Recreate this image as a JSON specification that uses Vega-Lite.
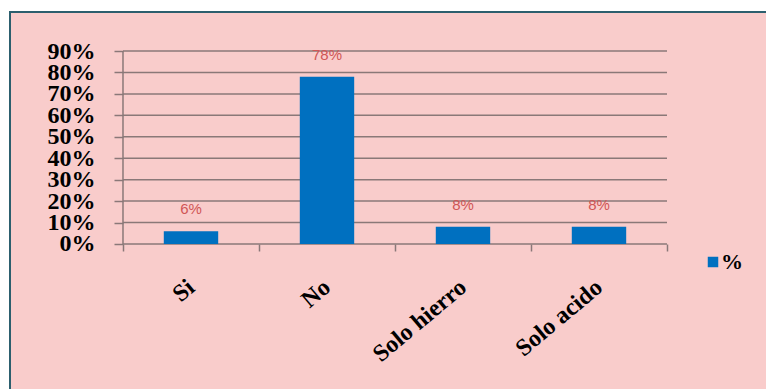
{
  "$schema": "https://vega.github.io/schema/vega-lite/v6.json",
  "autosize": {"type": "none"},
  "padding": {"left": 10, "top": 12, "right": 0, "bottom": 0},
  "width": 756,
  "height": 377,
  "background": "white",
  "config": {
    "view": {"fill": "#F9CCCB", "stroke": "#2C5F6E", "strokeWidth": 2, "strokeDash": [756, 1133, 377]},
    "font": "Liberation Serif"
  },
  "layer": [
    {
      "data": {"values": [{"t": 0}, {"t": 0.1}, {"t": 0.2}, {"t": 0.3}, {"t": 0.4}, {"t": 0.5}, {"t": 0.6}, {"t": 0.7}, {"t": 0.8}, {"t": 0.9}]},
      "mark": {"type": "rule", "color": "#8A7878", "strokeWidth": 1.5},
      "encoding": {
        "x": {"datum": "Si", "type": "nominal", "bandPosition": 0},
        "x2": {"datum": "Solo acido", "bandPosition": 1},
        "y": {"field": "t", "type": "quantitative"}
      }
    },
    {
      "data": {"values": [{"desde": 0, "hasta": 0.9}]},
      "mark": {"type": "rule", "color": "#8A7878", "strokeWidth": 1.5},
      "encoding": {
        "x": {"datum": "Si", "type": "nominal", "bandPosition": 0},
        "y": {"field": "desde", "type": "quantitative"},
        "y2": {"field": "hasta"}
      }
    },
    {
      "data": {"values": [
        {"categoria": "Si", "valor": 0.06, "serie": "%"},
        {"categoria": "No", "valor": 0.78, "serie": "%"},
        {"categoria": "Solo hierro", "valor": 0.08, "serie": "%"},
        {"categoria": "Solo acido", "valor": 0.08, "serie": "%"}
      ]},
      "layer": [
        {
          "mark": {"type": "bar", "width": {"band": 0.4}},
          "encoding": {
            "color": {
              "field": "serie",
              "type": "nominal",
              "scale": {"range": ["#0070C0"]},
              "legend": {
                "title": null,
                "orient": "none",
                "legendX": 692,
                "legendY": 239,
                "padding": 0,
                "symbolType": "square",
                "symbolSize": 110,
                "symbolStrokeWidth": 0,
                "labelFont": "Liberation Serif",
                "labelFontWeight": "bold",
                "labelFontSize": 22,
                "labelColor": "black",
                "labelOffset": -3
              }
            }
          }
        },
        {
          "mark": {"type": "text", "dy": -22, "baseline": "middle", "font": "Liberation Sans", "fontSize": 15, "color": "#D05656"},
          "encoding": {
            "text": {"field": "valor", "type": "quantitative", "format": ".0%"}
          }
        }
      ],
      "encoding": {
        "x": {"field": "categoria", "type": "nominal"},
        "y": {"field": "valor", "type": "quantitative"}
      }
    }
  ],
  "encoding": {
    "x": {
      "field": "categoria",
      "type": "nominal",
      "sort": ["Si", "No", "Solo hierro", "Solo acido"],
      "scale": {"domain": ["Si", "No", "Solo hierro", "Solo acido"], "paddingInner": 0, "paddingOuter": 0.77941, "align": 0.533},
      "axis": {
        "title": null,
        "offset": -145,
        "domain": false,
        "grid": false,
        "tickBand": "extent",
        "tickSize": 7,
        "tickColor": "#8A7878",
        "tickWidth": 1.5,
        "labelAngle": -40,
        "labelAlign": "right",
        "labelBaseline": "middle",
        "labelPadding": 33,
        "labelFont": "Liberation Serif",
        "labelFontWeight": "bold",
        "labelFontSize": 24,
        "labelColor": "black"
      }
    },
    "y": {
      "type": "quantitative",
      "scale": {"domain": [-0.67618, 1.08187], "nice": false, "zero": false},
      "axis": {
        "title": null,
        "offset": -113,
        "domain": false,
        "grid": false,
        "values": [0, 0.1, 0.2, 0.3, 0.4, 0.5, 0.6, 0.7, 0.8, 0.9],
        "format": ".0%",
        "tickSize": 9,
        "tickColor": "#8A7878",
        "tickWidth": 1.5,
        "labelOverlap": false,
        "labelPadding": 19,
        "labelFont": "Liberation Serif",
        "labelFontWeight": "bold",
        "labelFontSize": 24,
        "labelColor": "black",
        "labelBaseline": "middle"
      }
    }
  }
}
